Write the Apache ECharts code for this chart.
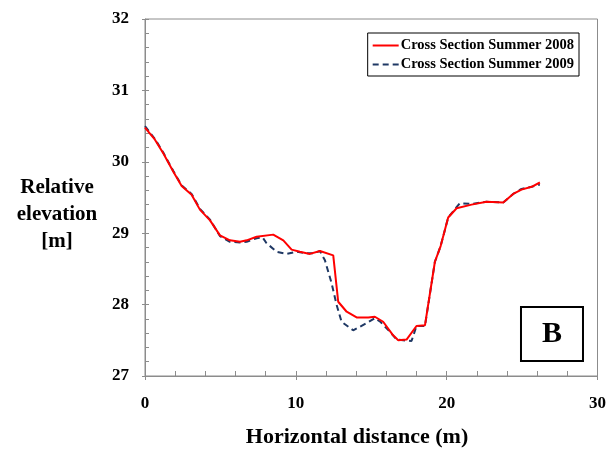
<!DOCTYPE html>
<html>
<head>
<meta charset="utf-8">
<script src="https://cdn.jsdelivr.net/npm/echarts@6/dist/echarts.min.js"></script>
<style>
html, body { margin: 0; padding: 0; background: #fff; }
#main { width: 609px; height: 455px; }
</style>
</head>
<body>
<div id="main"></div>
<script>
// cross section 2008 (solid red)
var dist2008 = [0, 0.66, 1.21, 1.88, 2.43, 3.09, 3.64, 4.31, 4.97, 5.63, 6.30, 6.74, 7.40, 8.50, 9.17, 9.72, 10.27, 10.93, 11.60, 12.48, 12.81, 13.37, 14.03, 14.80, 15.24, 15.79, 16.45, 16.79, 17.34, 18.0, 18.56, 19.22, 19.60, 20.10, 20.66, 21.65, 22.64, 23.75, 24.41, 24.96, 25.63, 26.18];
var elev2008 = [30.48, 30.31, 30.12, 29.86, 29.66, 29.54, 29.33, 29.18, 28.97, 28.90, 28.88, 28.90, 28.95, 28.98, 28.90, 28.77, 28.74, 28.71, 28.75, 28.69, 28.04, 27.90, 27.82, 27.82, 27.83, 27.76, 27.57, 27.50, 27.51, 27.70, 27.71, 28.60, 28.82, 29.22, 29.35, 29.40, 29.44, 29.43, 29.55, 29.61, 29.65, 29.71];

// cross section 2009 (dashed navy)
var dist2009 = [0, 0.66, 1.21, 1.88, 2.43, 3.09, 3.64, 4.31, 4.97, 5.63, 6.30, 6.74, 7.40, 7.80, 8.06, 8.73, 9.39, 10.05, 10.60, 11.20, 11.60, 11.93, 12.37, 12.70, 13.03, 13.80, 14.69, 15.24, 15.60, 16.23, 16.68, 17.67, 18.0, 18.56, 19.22, 19.60, 20.10, 20.87, 21.65, 22.64, 23.75, 24.41, 24.96, 25.63, 26.18];
var elev2009 = [30.50, 30.32, 30.13, 29.87, 29.67, 29.55, 29.34, 29.19, 28.96, 28.88, 28.87, 28.88, 28.93, 28.94, 28.86, 28.74, 28.71, 28.74, 28.72, 28.72, 28.75, 28.62, 28.30, 28.00, 27.76, 27.64, 27.74, 27.81, 27.76, 27.62, 27.51, 27.49, 27.70, 27.70, 28.60, 28.82, 29.22, 29.42, 29.41, 29.44, 29.43, 29.55, 29.62, 29.65, 29.68];

var seriesNames = ['Cross Section Summer 2008', 'Cross Section Summer 2009'];

function pairs(xs, ys) {
	var out = [];
	for (var i = 0; i < xs.length; i++) out.push([xs[i], ys[i]]);
	return out;
}

var font = '"Liberation Serif", "Times New Roman", serif';
var axisGray = '#8c8c8c';

var myChart = echarts.init(document.getElementById('main'));

var option = {
	animation: false,
	backgroundColor: '#fff',
	grid: {
		left: 145, right: 11, top: 19, bottom: 79,
		show: true, borderColor: axisGray, borderWidth: 1
	},
	title: {
		text: 'B',
		right: 26, top: 307,
		padding: [12, 21, 12, 21],
		borderColor: '#000', borderWidth: 2,
		textStyle: { fontFamily: font, fontSize: 30, fontWeight: 'bold', color: '#000' }
	},
	legend: {
		orient: 'vertical',
		right: 30, top: 33,
		padding: [5, 5, 4, 4],
		itemGap: 4,
		itemWidth: 26, itemHeight: 12,
		borderColor: '#000', borderWidth: 1,
		backgroundColor: '#fff',
		itemStyle: { opacity: 0 },
		data: seriesNames,
		textStyle: { fontFamily: font, fontSize: 14.5, fontWeight: 'bold', color: '#000', padding: [0, 0, 0, -3] }
	},
	xAxis: [{
		type: 'value', min: 0, max: 30, interval: 10,
		axisLine: { lineStyle: { color: axisGray } },
		axisTick: { show: true, inside: false, length: 4, lineStyle: { color: axisGray } },
		splitLine: { show: false },
		axisLabel: { margin: 19, fontFamily: font, fontSize: 17, fontWeight: 'bold', color: '#000' }
	}, {
		type: 'value', min: 0, max: 30, interval: 2, position: 'bottom',
		axisLine: { show: false },
		axisTick: { show: true, inside: true, length: 5, lineStyle: { color: axisGray } },
		splitLine: { show: false },
		axisLabel: { show: false }
	}],
	yAxis: [{
		type: 'value', min: 27, max: 32, interval: 1,
		axisLine: { show: true, lineStyle: { color: axisGray } },
		axisTick: { show: true, inside: false, length: 3, lineStyle: { color: axisGray } },
		splitLine: { show: false },
		axisLabel: { margin: 16, fontFamily: font, fontSize: 17, fontWeight: 'bold', color: '#000' }
	}, {
		type: 'value', min: 27, max: 32, interval: 0.2, position: 'left',
		axisLine: { show: false },
		axisTick: { show: true, inside: true, length: 4, lineStyle: { color: axisGray } },
		splitLine: { show: false },
		axisLabel: { show: false }
	}],
	graphic: [{
		type: 'text',
		style: {
			text: 'Relative\nelevation\n[m]', x: 57, y: 174,
			textAlign: 'center', textVerticalAlign: 'top',
			font: 'bold 21px ' + font, lineHeight: 27, fill: '#000'
		}
	}, {
		type: 'text',
		style: {
			text: 'Horizontal distance (m)', x: 357, y: 437,
			textAlign: 'center', textVerticalAlign: 'middle',
			font: 'bold 22px ' + font, fill: '#000'
		}
	}],
	series: [{
		name: seriesNames[1],
		type: 'line',
		data: pairs(dist2009, elev2009),
		symbol: 'none',
		lineStyle: { color: '#1f3864', width: 2, type: [6, 4] },
		itemStyle: { color: '#1f3864' }
	}, {
		name: seriesNames[0],
		type: 'line',
		data: pairs(dist2008, elev2008),
		symbol: 'none',
		lineStyle: { color: '#ff0000', width: 2 },
		itemStyle: { color: '#ff0000' }
	}]
};

myChart.setOption(option);
</script>
</body>
</html>
